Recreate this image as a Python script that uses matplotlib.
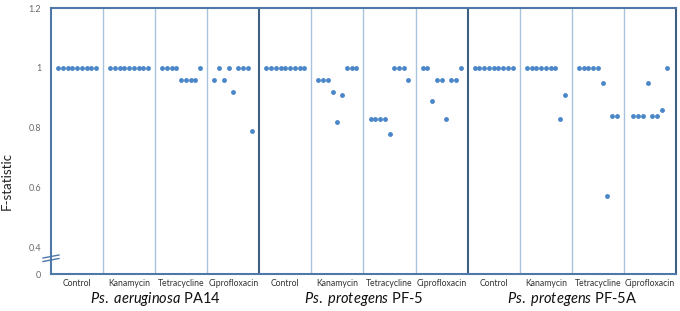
import matplotlib
matplotlib.use("Agg")
import matplotlib.pyplot as plt
import numpy as np

plt.rcParams['font.family'] = ['Lato', 'DejaVu Sans']
plt.rcParams['mathtext.fontset'] = 'custom'
plt.rcParams['mathtext.it'] = 'Lato:italic'
plt.rcParams['mathtext.rm'] = 'Lato'

groups = [r"$\mathit{Ps.}$ $\mathit{aeruginosa}$ PA14", r"$\mathit{Ps.}$ $\mathit{protegens}$ PF-5", r"$\mathit{Ps.}$ $\mathit{protegens}$ PF-5A"]
treatments = ["Control", "Kanamycin", "Tetracycline", "Ciprofloxacin"]

pa14_control = [1, 1, 1, 1, 1, 1, 1, 1, 1]
pa14_kan = [1, 1, 1, 1, 1, 1, 1, 1, 1]
pa14_tet = [1, 1, 1, 1, 0.96, 0.96, 0.96, 0.96, 1]
pa14_cip = [0.96, 1, 0.96, 1, 0.92, 1, 1, 1, 0.79]

pf5_control = [1, 1, 1, 1, 1, 1, 1, 1, 1]
pf5_kan = [0.96, 0.96, 0.96, 0.92, 0.82, 0.91, 1, 1, 1]
pf5_tet = [0.83, 0.83, 0.83, 0.83, 0.78, 1, 1, 1, 0.96]
pf5_cip = [1, 1, 0.89, 0.96, 0.96, 0.83, 0.96, 0.96, 1]

pf5a_control = [1, 1, 1, 1, 1, 1, 1, 1, 1]
pf5a_kan = [1, 1, 1, 1, 1, 1, 1, 0.83, 0.91]
pf5a_tet = [1, 1, 1, 1, 1, 0.95, 0.57, 0.84, 0.84]
pf5a_cip = [0.84, 0.84, 0.84, 0.95, 0.84, 0.84, 0.86, 1]

ytick_vals = [0.31, 0.4, 0.6, 0.8, 1.0, 1.2]
ytick_labels = ["0", "0.4", "0.6", "0.8", "1", "1.2"]

series = [pa14_control, pa14_kan, pa14_tet, pa14_cip,
          pf5_control, pf5_kan, pf5_tet, pf5_cip,
          pf5a_control, pf5a_kan, pf5a_tet, pf5a_cip]

fig = plt.figure(figsize=(6.8, 3.11), dpi=100)
ax = fig.add_axes([51/680, 1-274/311, 625/680, 266/311])

dot_color = '#4a86c8'
step = 0.091
for ci, vals in enumerate(series):
    n = len(vals)
    xs = ci + 0.5 + (np.arange(n) - (n - 1) / 2) * step
    ax.plot(xs, vals, 'o', color=dot_color, markersize=3.5, markeredgewidth=0, zorder=3)

ax.set_xlim(0, 12)
ax.set_ylim(0.31, 1.2)

frame = '#4e78a8'
for s in ax.spines.values():
    s.set_color(frame)
    s.set_linewidth(1.5)
ax.spines['right'].set_color('#3f5f80')

for k in range(1, 12):
    if k % 4 == 0:
        ax.axvline(k, color='#3f5f80', lw=1.5, zorder=1)
    else:
        ax.axvline(k, color='#a9c3df', lw=1.0, zorder=1)

ax.set_xticks([])
ax.set_yticks(ytick_vals)
ax.set_yticklabels(ytick_labels, fontsize=6.5, color='#6b6b6b')
ax.tick_params(axis='y', length=0, pad=7)

ax.set_ylabel("F-statistic", fontsize=9.5, color='#222222')
ax.yaxis.set_label_coords(-0.062, 0.35)

# category labels
for ci in range(12):
    ax.text(ci + 0.5, -0.035, treatments[ci % 4], transform=ax.get_xaxis_transform(),
            ha='center', va='center', fontsize=6.2, color='#333333')
for gi, g in enumerate(groups):
    ax.text(gi * 4 + 2, -0.095, g, transform=ax.get_xaxis_transform(),
            ha='center', va='center', fontsize=10.5, color='#111111')

# axis break marks
for dy in (0.0, 3.5):
    y0 = 1 - (256.5 + dy - 8) / 266
    ax.plot([-8/625, 8/625], [y0 - 1.5/266, y0 + 1.5/266], transform=ax.transAxes,
            color=frame, lw=1.0, clip_on=False, zorder=5)

fig.savefig("out.png", dpi=100)
